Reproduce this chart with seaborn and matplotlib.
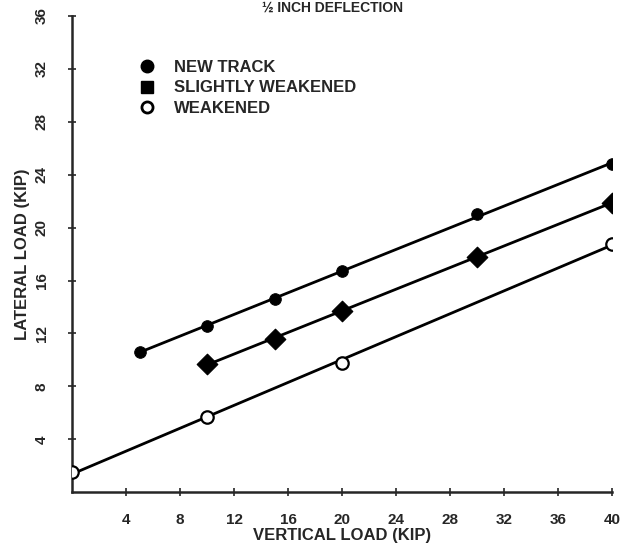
import matplotlib
matplotlib.use("Agg")
import matplotlib.pyplot as plt
from matplotlib.lines import Line2D
import numpy as np
import pandas as pd
import seaborn as sns

# values
new_x = [5, 10, 15, 20, 30, 40]
new_y = [10.6, 12.6, 14.6, 16.7, 21.0, 24.8]

slight_x = [10, 15, 20, 30, 40]
slight_y = [9.7, 11.6, 13.7, 17.8, 21.9]

weak_x = [0, 10, 20, 40]
weak_y = [1.5, 5.7, 9.8, 18.8]

x_ticks = [4, 8, 12, 16, 20, 24, 28, 32, 36, 40]
y_ticks = [4, 8, 12, 16, 20, 24, 28, 32, 36]

legend_labels = ["NEW TRACK", "SLIGHTLY WEAKENED", "WEAKENED"]

sns.set_style("ticks")
plt.rcParams['font.family'] = ['Liberation Sans', 'DejaVu Sans']

fig, ax = plt.subplots(figsize=(6.22, 5.5), dpi=100)
fig.subplots_adjust(left=0.116, right=0.984, bottom=0.105, top=0.971)

series = [
    (new_x, new_y, dict(marker="o", s=70, color="black", edgecolor="black")),
    (slight_x, slight_y, dict(marker="D", s=110, color="black", edgecolor="black")),
    (weak_x, weak_y, dict(marker="o", s=80, facecolor="white", edgecolor="black", linewidth=1.6)),
]

for xs, ys, style in series:
    df = pd.DataFrame({"x": xs, "y": ys})
    # straight fitted line like the original
    sns.regplot(data=df, x="x", y="y", ax=ax, scatter=False, ci=None,
                truncate=True, color="black", line_kws={"linewidth": 2.0})
    sns.scatterplot(data=df, x="x", y="y", ax=ax, zorder=5, **style)

ax.set_xlim(0, 40)
ax.set_ylim(0, 36)
ax.set_xticks(x_ticks)
ax.set_yticks(y_ticks)
ax.tick_params(axis="both", direction="inout", length=6, width=1.2,
               labelsize=11)
ax.tick_params(axis="x", pad=12)
ax.tick_params(axis="y", pad=14)
for lab in ax.get_yticklabels():
    lab.set_rotation(90)
    lab.set_va("center")
for lab in ax.get_xticklabels() + ax.get_yticklabels():
    lab.set_fontweight("bold")

sns.despine(ax=ax)
for side in ["left", "bottom"]:
    ax.spines[side].set_linewidth(1.8)

ax.set_xlabel("VERTICAL LOAD (KIP)", fontsize=12, fontweight="bold", labelpad=1)
ax.set_ylabel("LATERAL LOAD (KIP)", fontsize=12, fontweight="bold", labelpad=3)

handles = [
    Line2D([], [], marker="o", color="black", linestyle="none", markersize=9),
    Line2D([], [], marker="s", color="black", linestyle="none", markersize=9),
    Line2D([], [], marker="o", markerfacecolor="white", markeredgecolor="black",
           markeredgewidth=2, linestyle="none", markersize=8),
]
ax.legend(handles, legend_labels, loc="upper left", bbox_to_anchor=(0.08, 0.94),
          frameon=False, handletextpad=0.6, labelspacing=0.35,
          prop={"size": 12, "weight": "bold"})

fig.text(0.535, 0.999, "½ INCH DEFLECTION", ha="center", va="top",
         fontsize=10, fontweight="bold")

fig.savefig("out.png", dpi=100)
